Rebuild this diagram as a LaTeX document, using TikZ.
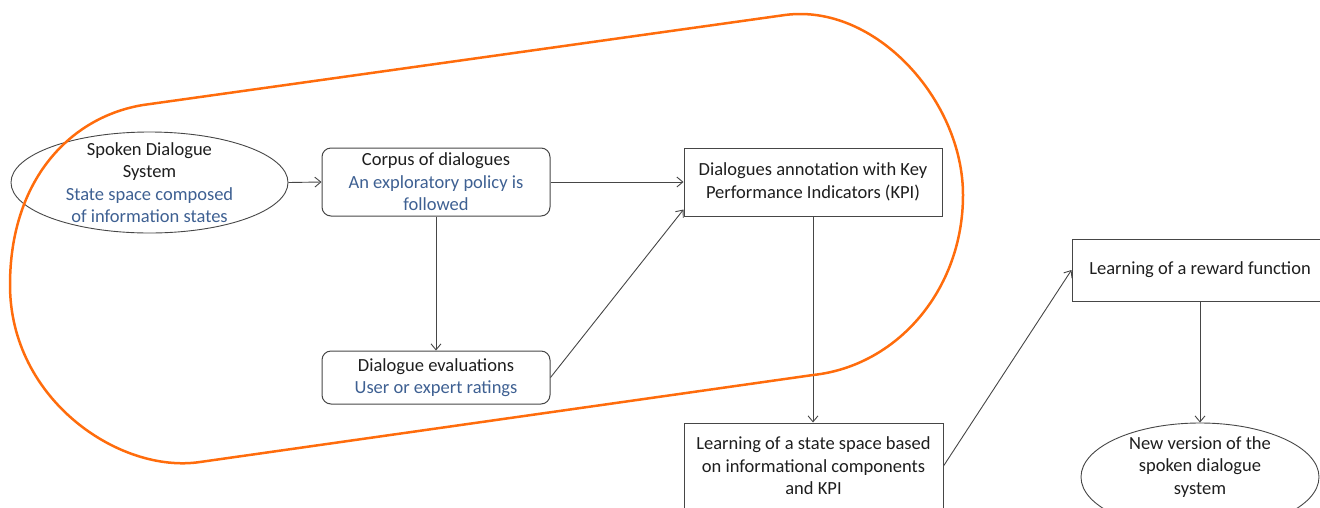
\documentclass[tikz,border=0pt]{standalone}
\usepackage{fontspec}
\setmainfont{Carlito}
\usetikzlibrary{arrows.meta,shapes.geometric}
\definecolor{linegray}{RGB}{70,70,70}
\definecolor{textdark}{RGB}{30,30,30}
\definecolor{bluetext}{RGB}{62,96,146}
\definecolor{loop}{RGB}{255,108,12}
\begin{document}
\begin{tikzpicture}[x=1pt,y=-1pt,
  every node/.style={font=\fontsize{18.5}{22.5}\selectfont, text=textdark, align=center, inner sep=0pt},
  sqbox/.style={draw=linegray, line width=1pt, rectangle},
  rndbox/.style={sqbox, rounded corners=9pt},
  oval/.style={draw=linegray, line width=0.9pt, ellipse},
  conn/.style={draw=linegray, line width=0.9pt, -{Straight Barb[length=6pt,width=10pt]}},
  loopline/.style={draw=loop, line width=2.5pt, line join=round}]
\useasboundingbox (0,0) rectangle (1320,507);
\clip (0,0) rectangle (1320,507);

% first-cycle nodes
\node[oval, minimum width=277, minimum height=101] (sds) at (149.5,182.5) {};
\node (sdstext) at (sds.center) {Spoken Dialogue\\System\\\textcolor{bluetext}{State space composed}\\\textcolor{bluetext}{of information states}};
\node[rndbox, minimum width=228, minimum height=68] (corpus) at (436,182)
  {Corpus of dialogues\\\textcolor{bluetext}{An exploratory policy is}\\\textcolor{bluetext}{followed}};
\node[rndbox, minimum width=228, minimum height=53] (eval) at (436,377.5)
  {Dialogue evaluations\\\textcolor{bluetext}{User or expert ratings}};
\node[sqbox, minimum width=258, minimum height=68] (kpi) at (813,182)
  {Dialogues annotation with Key\\Performance Indicators (KPI)};

% learning stages
\node[sqbox, minimum width=259, minimum height=86] (state) at (813.5,466)
  {Learning of a state space based\\on informational components\\and KPI};
\node[sqbox, minimum width=256, minimum height=62] (reward) at (1200,270)
  {Learning of a reward function};
\node[oval, minimum width=238, minimum height=108] (newsds) at (1200,477) {};
\node (newsdstext) at (1200,467) {New version of the\\spoken dialogue\\system};

% connectors
\draw[conn] (sds.east) -- (corpus.west);
\draw[conn] (corpus.east) -- (kpi.west);
\draw[conn] (corpus.south) -- (eval.north);
\draw[conn] (eval.east) -- (kpi.192.7);
\draw[conn] (kpi.south) -- (kpi.south |- state.north);
\draw[conn] (state.east) -- (reward.west);
\draw[conn] (reward.south) -- (newsds.north);

% loop around the data-collection cycle
\draw[loopline] (143,105) -- (785,15)
  .. controls (875,3) and (963,100) .. (963,195)
  .. controls (963,290) and (897,366) .. (813,375)
  -- (200,462)
  .. controls (120,474) and (10,400) .. (10,285)
  .. controls (10,180) and (70,117) .. cycle;
\end{tikzpicture}
\end{document}
